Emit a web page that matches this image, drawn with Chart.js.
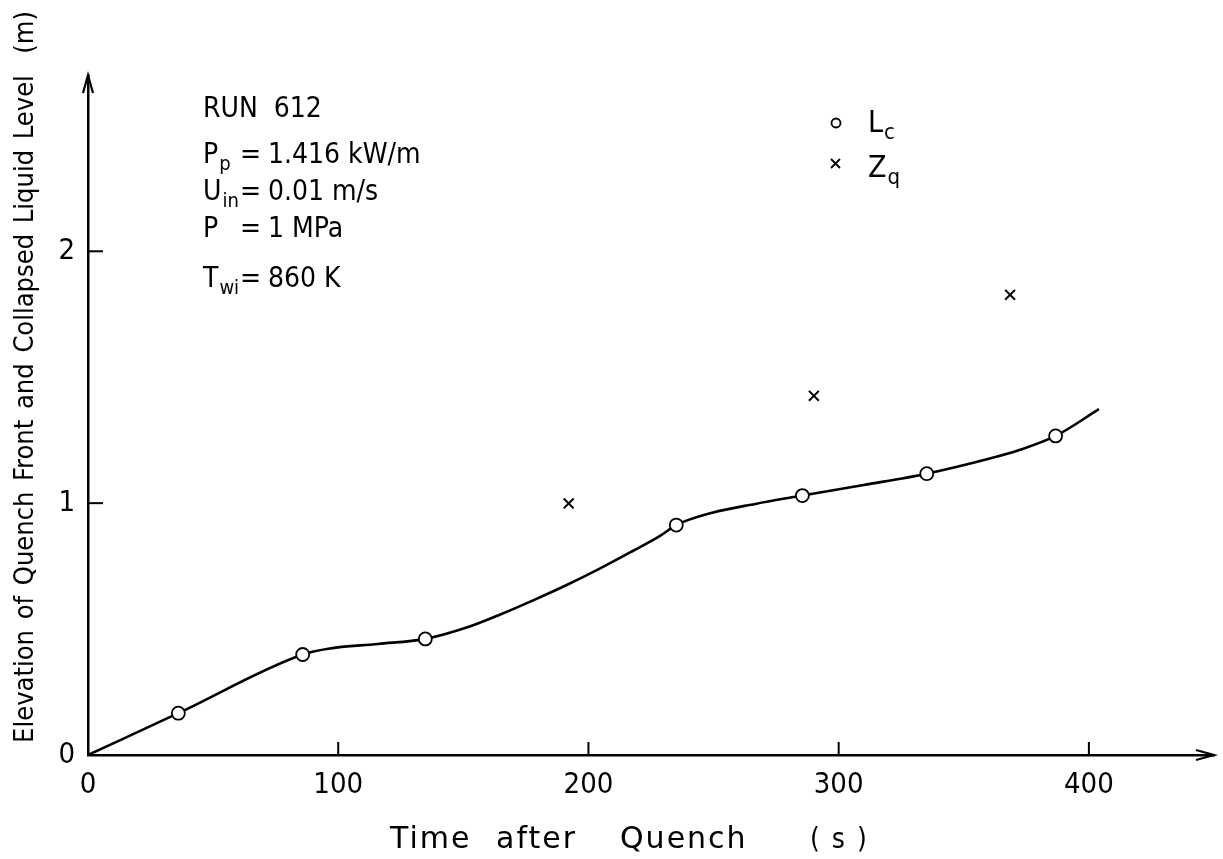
<!DOCTYPE html>
<html>
<head>
<meta charset="utf-8">
<title>RUN 612 - quench front and collapsed liquid level</title>
<script src="https://cdn.jsdelivr.net/npm/chart.js@4.4.1/dist/chart.umd.min.js"></script>
<style>
  html, body { margin: 0; padding: 0; background: #fff; }
  #chart-container { position: relative; width: 1223px; height: 859px; }
</style>
</head>
<body>
<div id="chart-container"><canvas id="myChart"></canvas></div>
<script>
'use strict';

// collapsed liquid level Lc, measured points (time in s, level in m)
var levelTimes = [36.1, 85.8, 134.8, 235.1, 285.5, 335.2, 386.7];
var levelValues = [0.166, 0.399, 0.461, 0.913, 1.030, 1.117, 1.267];

// quench front elevation Zq
var frontTimes = [192.1, 290.1, 368.5];
var frontValues = [0.999, 1.426, 1.827];

// hand-drawn curve through the Lc points
var curveTimes = [0, 36.1, 85.8, 96.0, 115.9, 134.8, 151.6, 164.8, 178.1, 191.3, 204.5, 217.7, 228.3, 235.1, 249.5, 266.7, 285.5, 310.0, 335.2, 360.0, 372.5, 386.7, 404.0];
var curveValues = [0, 0.166, 0.399, 0.422, 0.441, 0.461, 0.507, 0.558, 0.615, 0.675, 0.740, 0.810, 0.868, 0.913, 0.962, 0.997, 1.030, 1.072, 1.117, 1.176, 1.212, 1.267, 1.373];

// tick labels
var xTicks = [0, 100, 200, 300, 400];
var yTicks = [0, 1, 2];

// axis titles
var xTitleWords = ['Time', 'after', 'Quench', '( s )'];
var yTitle = 'Elevation of Quench Front and Collapsed Liquid Level  (m)';

// run conditions printed in the corner: [symbol, subscript, value]
var runTitle = 'RUN  612';
var runConditions = [
  ['P', 'p', '1.416 kW/m'],
  ['U', 'in', '0.01 m/s'],
  ['P', '', '1 MPa'],
  ['T', 'wi', '860 K']
];

var narrowFont = "'Liberation Sans Narrow', 'DejaVu Sans Condensed', 'Liberation Sans', sans-serif";
var wideFont = "'DejaVu Sans', sans-serif";

// turn two arrays into {x, y} points
function toPoints(xs, ys) {
  var pts = [];
  for (var i = 0; i < xs.length; i++) {
    pts.push({ x: xs[i], y: ys[i] });
  }
  return pts;
}

// text with a lowered subscript, returns x after the text
function drawSubscripted(ctx, x, y, main, sub, size) {
  ctx.font = size + 'px ' + narrowFont;
  ctx.fillText(main, x, y);
  var w = ctx.measureText(main).width;
  if (sub) {
    ctx.font = Math.round(size * 0.72) + 'px ' + narrowFont;
    ctx.fillText(sub, x + w + 1, y + 7);
    w += ctx.measureText(sub).width + 1;
  }
  return x + w;
}

// inward tick marks and arrow heads on both axes
var axisDecor = {
  id: 'axisDecor',
  afterDatasetsDraw: function (chart) {
    var ctx = chart.ctx;
    var area = chart.chartArea;
    var xScale = chart.scales.x;
    var yScale = chart.scales.y;
    ctx.save();
    ctx.strokeStyle = '#000';
    ctx.lineWidth = 2;
    xTicks.forEach(function (v) {
      if (v === 0) { return; }
      var px = xScale.getPixelForValue(v);
      ctx.beginPath();
      ctx.moveTo(px, area.bottom);
      ctx.lineTo(px, area.bottom - 13);
      ctx.stroke();
    });
    yTicks.forEach(function (v) {
      if (v === 0) { return; }
      var py = yScale.getPixelForValue(v);
      ctx.beginPath();
      ctx.moveTo(area.left, py);
      ctx.lineTo(area.left + 15, py);
      ctx.stroke();
    });
    ctx.lineWidth = 2.2;
    ctx.beginPath();
    ctx.moveTo(area.left - 5, area.top + 18);
    ctx.lineTo(area.left, area.top);
    ctx.lineTo(area.left + 5, area.top + 18);
    ctx.stroke();
    ctx.beginPath();
    ctx.moveTo(area.right - 18, area.bottom - 5);
    ctx.lineTo(area.right, area.bottom);
    ctx.lineTo(area.right - 18, area.bottom + 5);
    ctx.stroke();
    ctx.restore();
  }
};

// axis titles, run conditions block and the marker key
var notes = {
  id: 'notes',
  afterDraw: function (chart) {
    var ctx = chart.ctx;
    ctx.save();
    ctx.fillStyle = '#000';
    ctx.textBaseline = 'alphabetic';
    ctx.textAlign = 'left';

    // x title, words spread out
    var wordX = [390, 496, 620, 810];
    ctx.font = '30px ' + wideFont;
    ctx.letterSpacing = '2px';
    xTitleWords.forEach(function (w, i) {
      if (i === 3) { ctx.font = '28px ' + narrowFont; }
      ctx.fillText(w, wordX[i], 848);
    });
    ctx.letterSpacing = '0px';

    // y title, rotated
    ctx.save();
    ctx.translate(33, 377);
    ctx.rotate(-Math.PI / 2);
    ctx.textAlign = 'center';
    ctx.font = '27px ' + narrowFont;
    ctx.wordSpacing = '3px';
    ctx.fillText(yTitle, 0, 0);
    ctx.wordSpacing = '0px';
    ctx.restore();

    ctx.font = '28px ' + narrowFont;
    ctx.fillText(runTitle, 203, 117);
    var baselines = [163, 200, 237, 287];
    runConditions.forEach(function (row, i) {
      drawSubscripted(ctx, 203, baselines[i], row[0], row[1], 28);
      ctx.font = '28px ' + narrowFont;
      ctx.fillText('=', 240, baselines[i]);
      ctx.fillText(row[2], 268, baselines[i]);
    });

    // key
    ctx.strokeStyle = '#000';
    ctx.lineWidth = 1.8;
    ctx.beginPath();
    ctx.arc(836, 123, 4.5, 0, Math.PI * 2);
    ctx.stroke();
    ctx.beginPath();
    ctx.moveTo(831, 159); ctx.lineTo(840, 168);
    ctx.moveTo(840, 159); ctx.lineTo(831, 168);
    ctx.stroke();
    drawSubscripted(ctx, 868, 132, 'L', 'c', 30);
    drawSubscripted(ctx, 868, 177, 'Z', 'q', 30);
    ctx.restore();
  }
};

var ctx = document.getElementById('myChart').getContext('2d');
var chart = new Chart(ctx, {
  type: 'scatter',
  data: {
    datasets: [
      {
        label: 'Lc',
        data: toPoints(levelTimes, levelValues),
        pointStyle: 'circle',
        pointRadius: 6.5,
        pointBackgroundColor: '#fff',
        pointBorderColor: '#000',
        pointBorderWidth: 1.8,
        showLine: false,
        order: 0
      },
      {
        label: 'Zq',
        data: toPoints(frontTimes, frontValues),
        pointStyle: 'crossRot',
        pointRadius: 7,
        pointBorderColor: '#000',
        pointBorderWidth: 2,
        showLine: false,
        order: 1
      },
      {
        label: 'curve',
        data: toPoints(curveTimes, curveValues),
        showLine: true,
        pointRadius: 0,
        borderColor: '#000',
        borderWidth: 2.6,
        cubicInterpolationMode: 'monotone',
        order: 2
      }
    ]
  },
  options: {
    responsive: true,
    maintainAspectRatio: false,
    animation: false,
    layout: { padding: { top: 75, right: 1, left: 0, bottom: 0 } },
    plugins: {
      legend: { display: false },
      tooltip: { enabled: false }
    },
    scales: {
      x: {
        type: 'linear',
        min: 0,
        max: 450,
        afterBuildTicks: function (scale) {
          scale.ticks = xTicks.map(function (v) { return { value: v }; });
        },
        afterFit: function (scale) { scale.height = 104; },
        grid: { display: false, drawTicks: false },
        border: { display: true, color: '#000', width: 2.5 },
        ticks: {
          color: '#000',
          font: { family: narrowFont, size: 29 },
          padding: 13,
          maxRotation: 0
        },
        title: { display: false }
      },
      y: {
        type: 'linear',
        min: 0,
        max: 2.7,
        afterBuildTicks: function (scale) {
          scale.ticks = yTicks.map(function (v) { return { value: v }; });
        },
        afterFit: function (scale) { scale.width = 88; },
        grid: { display: false, drawTicks: false },
        border: { display: true, color: '#000', width: 2.5 },
        ticks: {
          color: '#000',
          font: { family: narrowFont, size: 29 },
          padding: 13
        },
        title: { display: false }
      }
    }
  },
  plugins: [axisDecor, notes]
});
</script>
</body>
</html>
